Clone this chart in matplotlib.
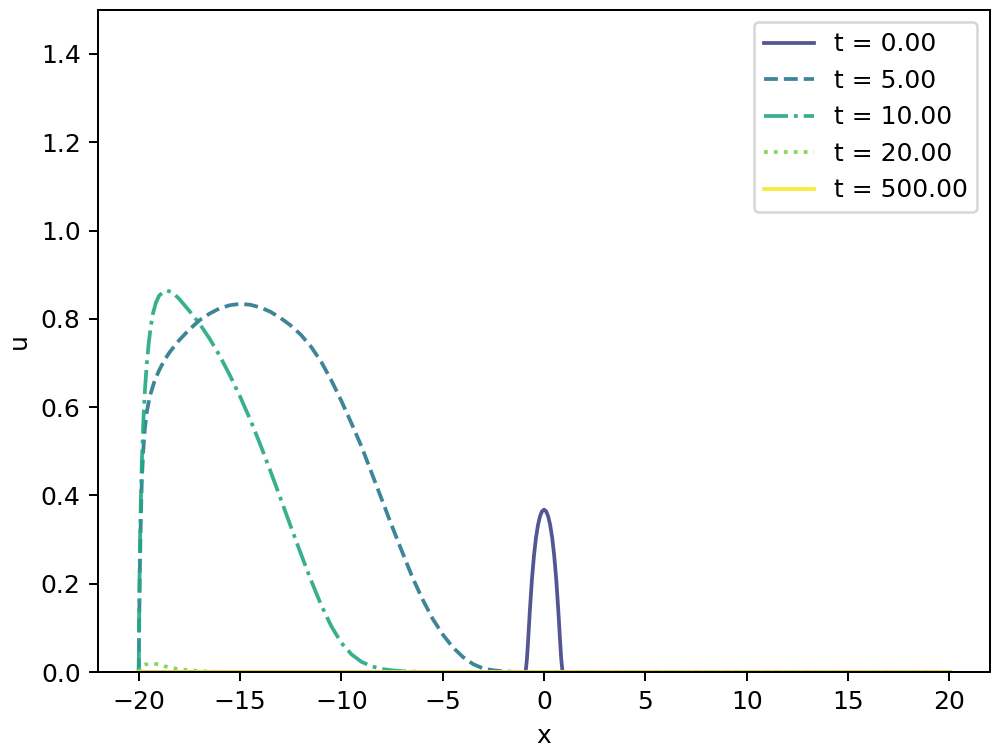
#!/usr/bin/env python3
import matplotlib
matplotlib.use("Agg")
import matplotlib.pyplot as plt
import numpy as np

# values
labels = ["t = 0.00", "t = 5.00", "t = 10.00", "t = 20.00", "t = 500.00"]
styles = ["-", "--", "-.", ":", "-"]

x_t0 = [-20, -1.0, -0.95, -0.9, -0.85, -0.8, -0.7, -0.6, -0.5, -0.4, -0.3, -0.2, -0.1, 0.0,
        0.1, 0.2, 0.3, 0.4, 0.5, 0.6, 0.7, 0.8, 0.85, 0.9, 0.95, 1.0, 20]
u_t0 = [0, 0, 0.00004, 0.0052, 0.0272, 0.0622, 0.1408, 0.2096, 0.2636, 0.3041, 0.3333, 0.3529, 0.3642, 0.3679,
        0.3642, 0.3529, 0.3333, 0.3041, 0.2636, 0.2096, 0.1408, 0.0622, 0.0272, 0.0052, 0.00004, 0, 0]

x_t5 = [-20, -19.98, -19.95, -19.9, -19.85, -19.78, -19.7, -19.6, -19.45, -19.25, -19.0, -18.75,
        -18.5, -18.0, -17.5, -17.0, -16.5, -16.0, -15.5, -15.0, -14.5, -14.0, -13.5, -13.0, -12.5,
        -12.0, -11.5, -11.0, -10.5, -10.0, -9.5, -9.0, -8.5, -8.0, -7.5, -7.0, -6.5, -6.0, -5.5,
        -5.0, -4.5, -4.0, -3.5, -3.0, -2.5, -2.0, -1.5, -1.0, 20]
u_t5 = [0, 0.1, 0.22, 0.34, 0.43, 0.5, 0.55, 0.59, 0.625, 0.655, 0.683, 0.705,
        0.723, 0.752, 0.776, 0.797, 0.812, 0.824, 0.831, 0.834, 0.832, 0.826, 0.816, 0.802, 0.785,
        0.764, 0.737, 0.703, 0.661, 0.614, 0.563, 0.51, 0.45, 0.39, 0.33, 0.272, 0.215, 0.165, 0.121,
        0.085, 0.056, 0.034, 0.018, 0.008, 0.004, 0.002, 0.0005, 0.0, 0]

x_t10 = [-20, -19.98, -19.95, -19.9, -19.85, -19.78, -19.7, -19.6, -19.5, -19.4, -19.3, -19.15,
         -19.0, -18.8, -18.6, -18.4, -18.2, -18.0, -17.5, -17.0, -16.5, -16.0, -15.5, -15.0, -14.5,
         -14.0, -13.5, -13.0, -12.5, -12.0, -11.5, -11.0, -10.5, -10.0, -9.5, -9.0, -8.5, -8.0,
         -7.5, -7.0, -6.0, -5.0, 20]
u_t10 = [0, 0.12, 0.26, 0.38, 0.47, 0.56, 0.635, 0.70, 0.748, 0.785, 0.812, 0.837,
         0.852, 0.861, 0.864, 0.861, 0.854, 0.845, 0.818, 0.789, 0.755, 0.716, 0.672, 0.624, 0.572,
         0.515, 0.455, 0.393, 0.33, 0.268, 0.208, 0.152, 0.104, 0.066, 0.04, 0.023, 0.013, 0.007,
         0.004, 0.002, 0.0005, 0, 0]

x_t20 = [-20, -19.9, -19.7, -19.4, -19.1, -18.7, -18.2, -17.7, -17.0, -16.0, -15.0, 20]
u_t20 = [0, 0.012, 0.017, 0.019, 0.018, 0.013, 0.008, 0.005, 0.002, 0.0005, 0, 0]

x_t500 = [-20, 20]
u_t500 = [0, 0]

series = [(x_t0, u_t0), (x_t5, u_t5), (x_t10, u_t10), (x_t20, u_t20), (x_t500, u_t500)]


def main() -> None:
    colors = plt.cm.viridis(np.linspace(0.2, 1.0, len(series)))
    fig, ax = plt.subplots(figsize=(1002 / 180, 756 / 180), dpi=180)
    fig.subplots_adjust(left=0.098, right=0.988, top=0.987, bottom=0.111)
    for (xs, us), lab, ls, c in zip(series, labels, styles, colors):
        ax.plot(xs, us, ls, color=c, alpha=0.9, label=lab)
    ax.set_ylim(0, 1.5)
    ax.set_xlabel("x")
    ax.set_ylabel("u")
    ax.legend(loc="upper right")
    fig.savefig("out.png", dpi=180)
    plt.close(fig)


if __name__ == "__main__":
    main()
